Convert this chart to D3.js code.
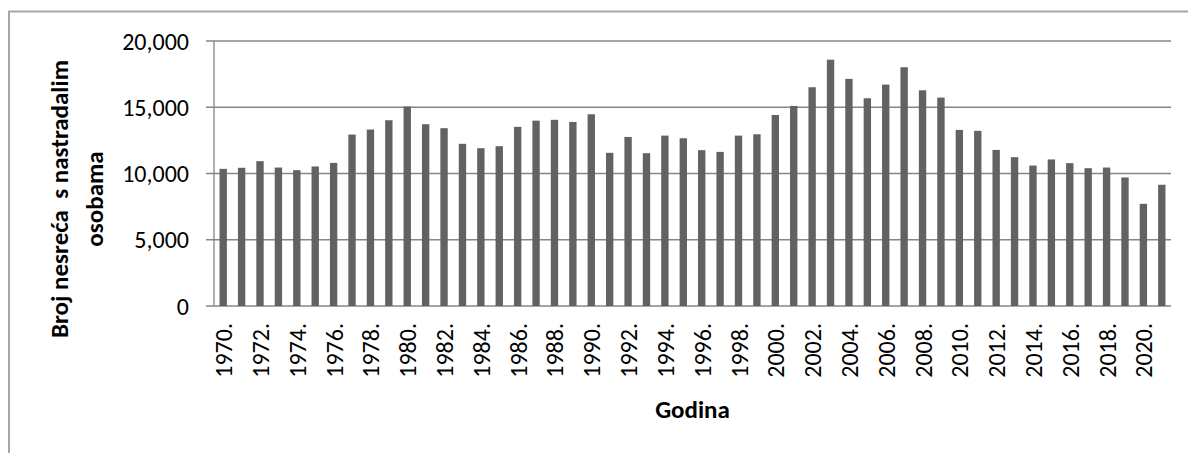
<!DOCTYPE html>
<html>
<head>
<meta charset="utf-8">
<script src="https://cdn.jsdelivr.net/npm/d3@7"></script>
<style>
    body { margin: 0; background: #fff; }
    text { font-family: Carlito, Calibri, Lato, sans-serif; fill: #000; white-space: pre; }
    .grid line { stroke: #868686; stroke-width: 1.3; }
    .bar { fill: #626262; }
</style>
</head>
<body>
<script>
//wrap everything in a self-executing anonymous function
(function(){

//chart data
var years = ["1970","1971","1972","1973","1974","1975","1976","1977","1978","1979",
    "1980","1981","1982","1983","1984","1985","1986","1987","1988","1989",
    "1990","1991","1992","1993","1994","1995","1996","1997","1998","1999",
    "2000","2001","2002","2003","2004","2005","2006","2007","2008","2009",
    "2010","2011","2012","2013","2014","2015","2016","2017","2018","2019",
    "2020","2021"];
var accidents = [10350,10430,10930,10450,10250,10530,10800,12940,13320,14020,
    15050,13720,13420,12240,11910,12060,13520,13990,14050,13890,
    14470,11560,12760,11530,12860,12660,11760,11630,12860,12960,
    14420,15100,16510,18590,17140,15680,16710,18020,16280,15730,
    13290,13220,11780,11230,10600,11060,10780,10400,10450,9700,
    7710,9150];
var yTicks = [0, 5000, 10000, 15000, 20000];
var yTitle = ["Broj nesreća  s nastradalim", "osobama"];
var xTitle = "Godina";

//frame dimensions
var width = 1188,
    height = 453,
    margin = {left: 214, right: 17, top: 41, bottom: 147};

var svg = d3.select("body")
    .append("svg")
    .attr("width", width)
    .attr("height", height);

//outer chart border (top and left visible)
svg.append("path")
    .attr("d", "M9," + height + "V11.5H" + width)
    .attr("fill", "none")
    .attr("stroke", "#a6a6a6")
    .attr("stroke-width", 2);

//scales
var x = d3.scaleBand()
    .domain(years)
    .range([margin.left, width - margin.right])
    .paddingInner(0.6)
    .paddingOuter(0.3);

var y = d3.scaleLinear()
    .domain([0, 20000])
    .range([height - margin.bottom, margin.top]);

//horizontal gridlines with short outer ticks
var grid = svg.append("g")
    .attr("class", "grid");

grid.selectAll("line")
    .data(yTicks)
    .enter()
    .append("line")
    .attr("x1", margin.left - 8)
    .attr("x2", width - margin.right)
    .attr("y1", function(d){ return y(d); })
    .attr("y2", function(d){ return y(d); });

//vertical y axis line
grid.append("line")
    .attr("x1", margin.left)
    .attr("x2", margin.left)
    .attr("y1", y(20000))
    .attr("y2", y(0));

//bars
svg.selectAll(".bar")
    .data(accidents)
    .enter()
    .append("rect")
    .attr("class", "bar")
    .attr("x", function(d, i){ return x(years[i]); })
    .attr("width", x.bandwidth())
    .attr("y", function(d){ return y(d); })
    .attr("height", function(d){ return y(0) - y(d); });

//y tick labels
var fmt = d3.format(",");
svg.selectAll(".ylab")
    .data(yTicks)
    .enter()
    .append("text")
    .attr("class", "ylab")
    .attr("x", 189)
    .attr("y", function(d){ return y(d); })
    .attr("dy", "0.36em")
    .attr("text-anchor", "end")
    .style("font-size", "24px")
    .text(function(d){ return fmt(d); });

//x tick labels, every other year, rotated
svg.selectAll(".xlab")
    .data(years.filter(function(d, i){ return i % 2 == 0; }))
    .enter()
    .append("text")
    .attr("class", "xlab")
    .attr("transform", function(d){
        return "translate(" + (x(d) + x.bandwidth() / 2 + 9) + ",323) rotate(-90)";
    })
    .attr("text-anchor", "end")
    .style("font-size", "24px")
    .text(function(d){ return d + "."; });

//axis titles
svg.append("text")
    .attr("x", (margin.left + width - margin.right) / 2)
    .attr("y", 418)
    .attr("text-anchor", "middle")
    .style("font-size", "25px")
    .style("font-weight", "bold")
    .text(xTitle);

svg.selectAll(".ytitle")
    .data(yTitle)
    .enter()
    .append("text")
    .attr("class", "ytitle")
    .attr("transform", function(d, i){
        return "translate(" + (68 + i * 35) + ",199) rotate(-90)";
    })
    .attr("text-anchor", "middle")
    .style("font-size", "25px")
    .style("font-weight", "bold")
    .text(function(d){ return d; });

})();
</script>
</body>
</html>
